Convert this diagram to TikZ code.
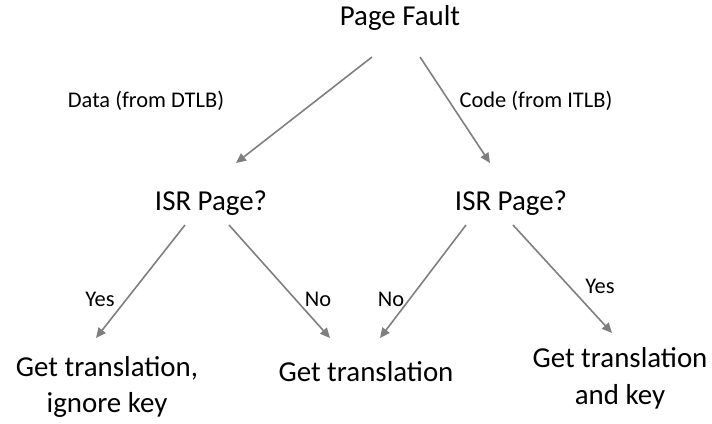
\documentclass[tikz,border=0pt]{standalone}
\usepackage{fontspec}
\setmainfont{Carlito}
\usetikzlibrary{arrows.meta,calc}
\definecolor{arrgray}{RGB}{127,127,127}

\begin{document}
\begin{tikzpicture}
[x=1bp,y=-1bp,
    box/.style={inner sep=0pt,align=center,font=\fontsize{29}{37}\selectfont},
    lbl/.style={inner sep=0pt,font=\fontsize{22.5}{27}\selectfont},
    edgearr/.style={arrgray,line width=1.6bp,-{Triangle[length=10bp,width=9bp]}}]
\useasboundingbox (0,0) rectangle (712,423);
%%%%%%%%%%
%% nodes
\node[box] (pf) at (400,18) {Page Fault};
\node[box] (isrl) at (211,203) {ISR Page?};
\node[box] (isrr) at (511,203) {ISR Page?};
\node[box] (getl) at (107,387) {Get translation,\\ignore key};
\node[box] (getm) at (366,372) {Get translation};
\node[box] (getr) at (620,378) {Get translation\\and key};
%% labels
\node[lbl] (data) at (146,101) {Data (from DTLB)};
\node[lbl] (code) at (536,101) {Code (from ITLB)};
\node[lbl] (yesl) at (100,299) {Yes};
\node[lbl] (nol) at (318,299) {No};
\node[lbl] (nor) at (391,299) {No};
\node[lbl] (yesr) at (600,286) {Yes};
%% connectors
\draw[edgearr] ($(pf)+(-28,39)$) -- ($(isrl)+(25,-40)$);
\draw[edgearr] ($(pf)+(20,39)$) -- ($(isrr)+(-21,-40)$);
\draw[edgearr] ($(isrl)+(-26,22)$) -- ($(getl)+(-11,-49)$);
\draw[edgearr] ($(isrl)+(18,22)$) -- ($(getm)+(-36,-34)$);
\draw[edgearr] ($(isrr)+(-45,22)$) -- ($(getm)+(14,-34)$);
\draw[edgearr] ($(isrr)+(2,22)$) -- ($(getr)+(-8,-45)$);
\end{tikzpicture}
\end{document}
